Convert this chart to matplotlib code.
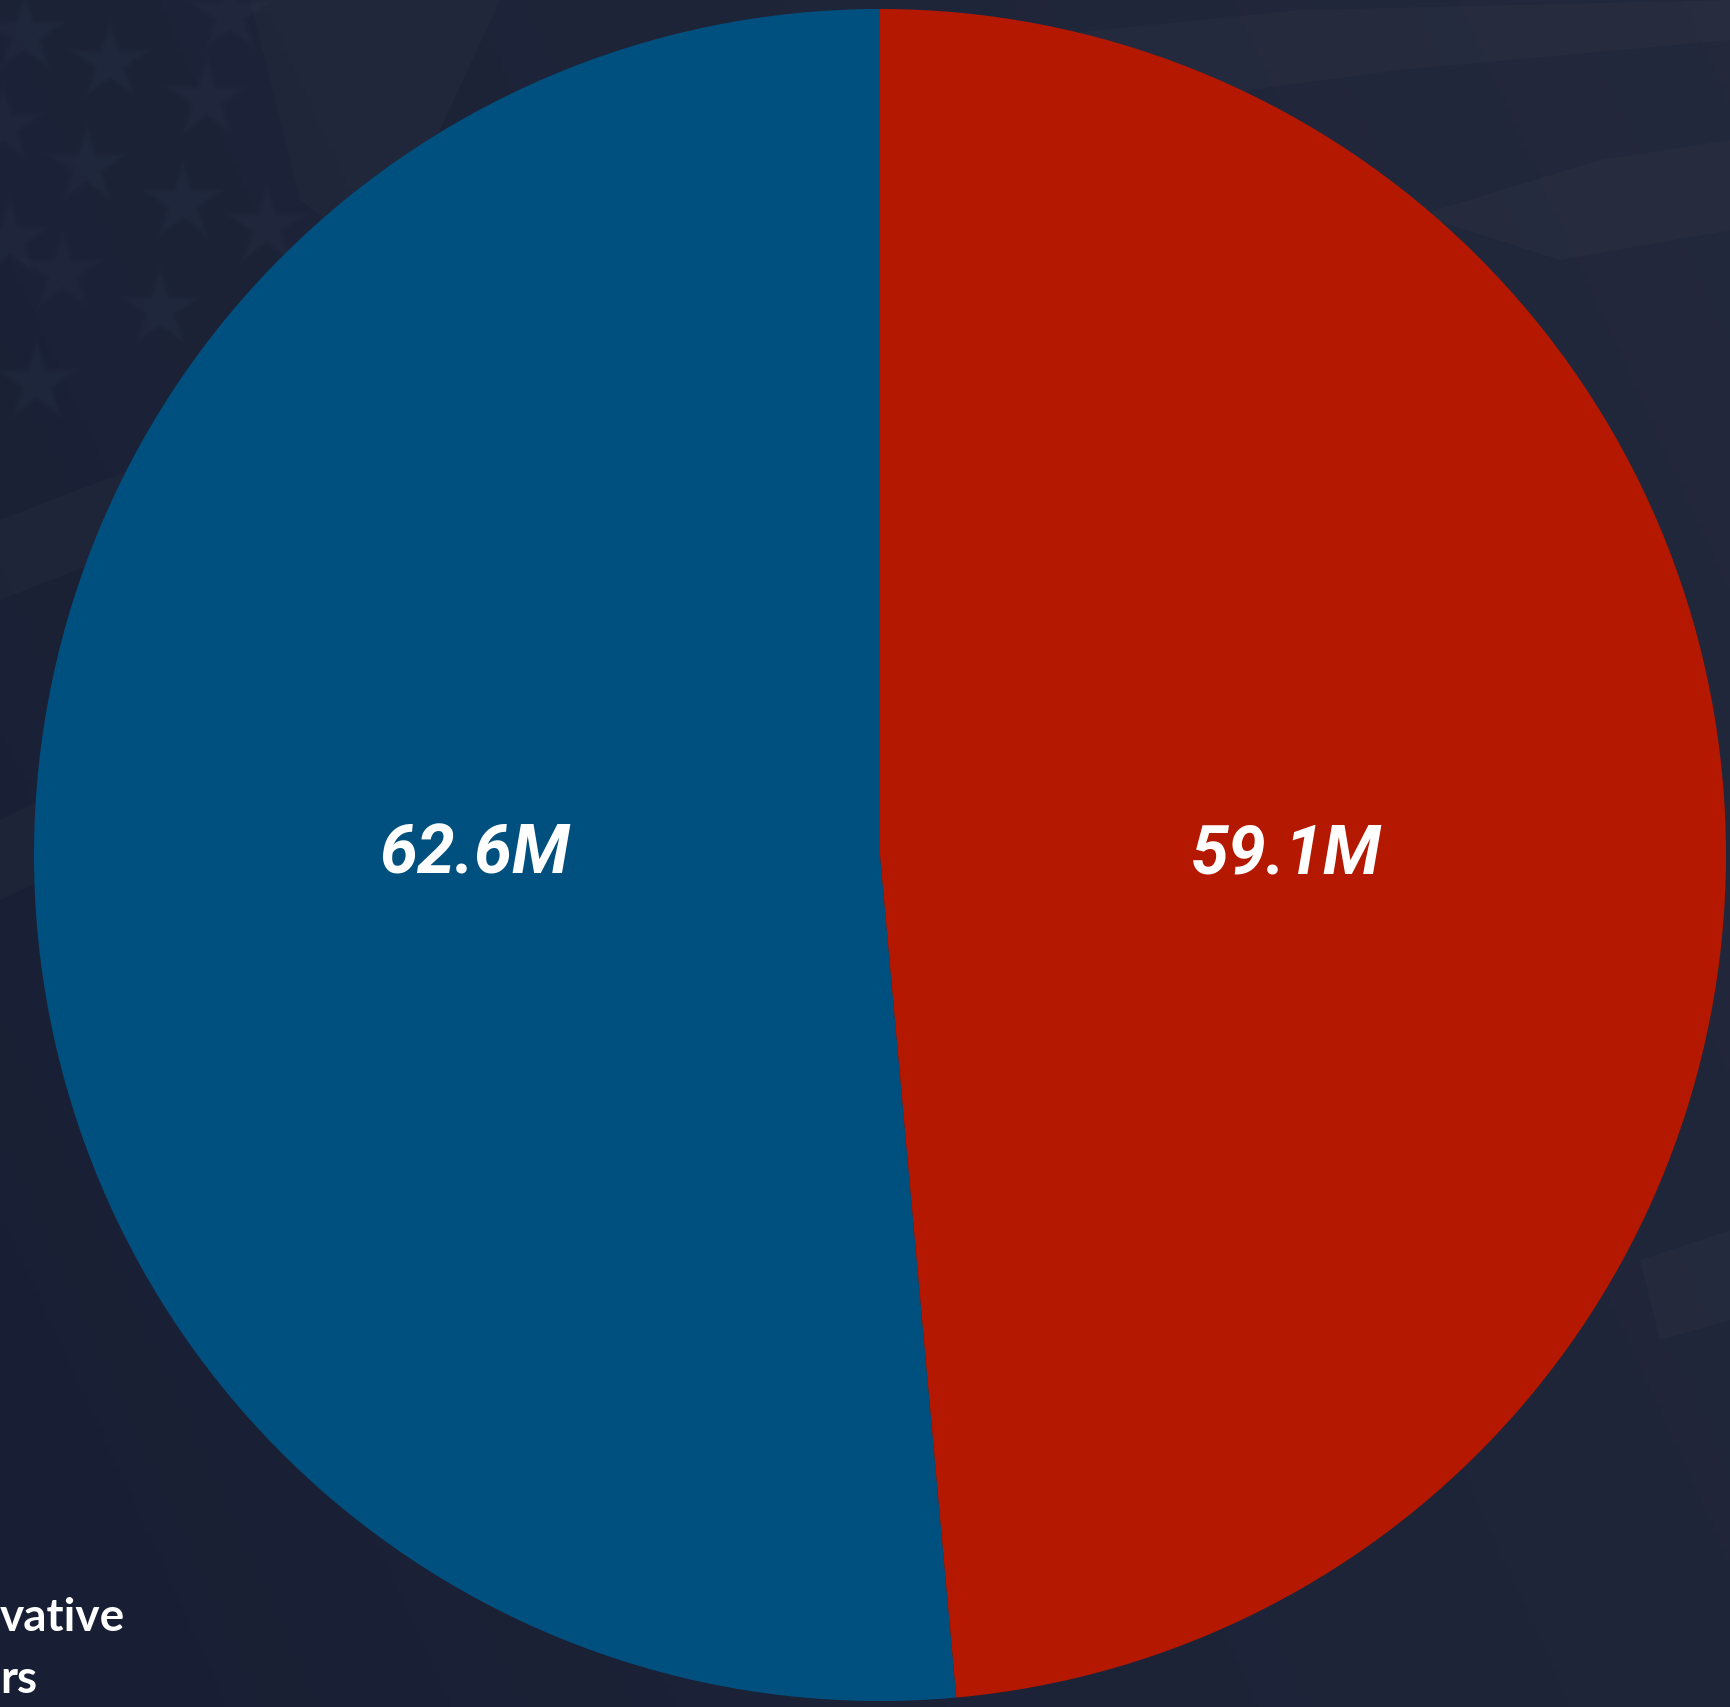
import matplotlib
matplotlib.use("Agg")
import matplotlib.pyplot as plt
import numpy as np

# vote totals, millions
labels = ["Democratic", "Republican"]
votes = [62.6, 59.1]
colors = ["#00507f", "#b41800"]
side_text = ["vative", "rs"]

W, H = 1731, 1707
fig = plt.figure(figsize=(W / 100, H / 100), dpi=100)

# background: dark navy wash with a faint flag pattern
bg = fig.add_axes([0, 0, 1, 1])
bg.set_xlim(0, W)
bg.set_ylim(H, 0)
bg.axis("off")

xx, yy = np.meshgrid(np.linspace(0, 1, 300), np.linspace(0, 1, 300))
t = np.clip(0.55 * xx + 0.25 * (1 - yy), 0, 1)
dark = np.array([24, 31, 52]) / 255
light = np.array([38, 43, 62]) / 255
img = dark[None, None, :] * (1 - t[..., None]) + light[None, None, :] * t[..., None]
bg.imshow(img, extent=[0, W, H, 0], aspect="auto", zorder=0)

# faint stripes sweeping across the flag
bands = [
    [(950, 45), (1300, 10), (1731, 0), (1731, 40), (1400, 70), (1100, 110)],
    [(1420, 215), (1600, 160), (1731, 140), (1731, 230), (1560, 260)],
    [(0, 520), (260, 420), (330, 470), (0, 600)],
    [(0, 820), (120, 760), (150, 830), (0, 900)],
    [(1640, 1260), (1731, 1230), (1731, 1320), (1660, 1340)],
]
for b in bands:
    bg.add_patch(plt.Polygon(b, closed=True, fc="white", ec="none", alpha=0.02, zorder=1))
bg.add_patch(plt.Polygon([(250, 0), (500, 0), (380, 260), (300, 200)], closed=True,
                         fc="white", ec="none", alpha=0.02, zorder=1))

stars_x = [25, 110, 207, 3, 87, 183, 267, 63, 160, 37, 230, 10]
stars_y = [35, 63, 100, 127, 167, 203, 227, 273, 310, 383, 15, 240]
for s, a in [(5000, 0.04), (3600, 0.06), (2400, 0.08)]:
    bg.scatter(stars_x, stars_y, s=s, marker="*", color="#3a4666", alpha=a,
               edgecolors="none", zorder=2)

# pie
cx, cy, r = 880, 855, 846
ax = fig.add_axes([(cx - r) / W, (H - cy - r) / H, 2 * r / W, 2 * r / H])
ax.set_facecolor("none")
wedges, texts = ax.pie(
    votes,
    colors=colors,
    labels=[f"{v}M" for v in votes],
    startangle=90,
    counterclock=True,
    radius=1,
    labeldistance=0.48,
    wedgeprops=dict(linewidth=0),
    textprops=dict(color="white", fontsize=49, fontweight="bold",
                   fontstyle="italic", family=["Roboto", "DejaVu Sans"]),
)
# keep both value labels on the horizontal midline
for tx in texts:
    x, _ = tx.get_position()
    tx.set_position((x, 0.0))
    tx.set_ha("center")
    tx.set_va("center")
ax.set_xlim(-1, 1)
ax.set_ylim(-1, 1)
ax.set_aspect("equal")
ax.axis("off")

# legend caption at the lower left
fig.text(0, 1 - 1618 / H, side_text[0], ha="left", va="center", color="white",
         fontsize=33, fontweight="bold", family=["Lato", "DejaVu Sans"])
fig.text(0, 1 - 1680 / H, side_text[1], ha="left", va="center", color="white",
         fontsize=33, fontweight="bold", family=["Lato", "DejaVu Sans"])

fig.savefig("out.png", dpi=100)
